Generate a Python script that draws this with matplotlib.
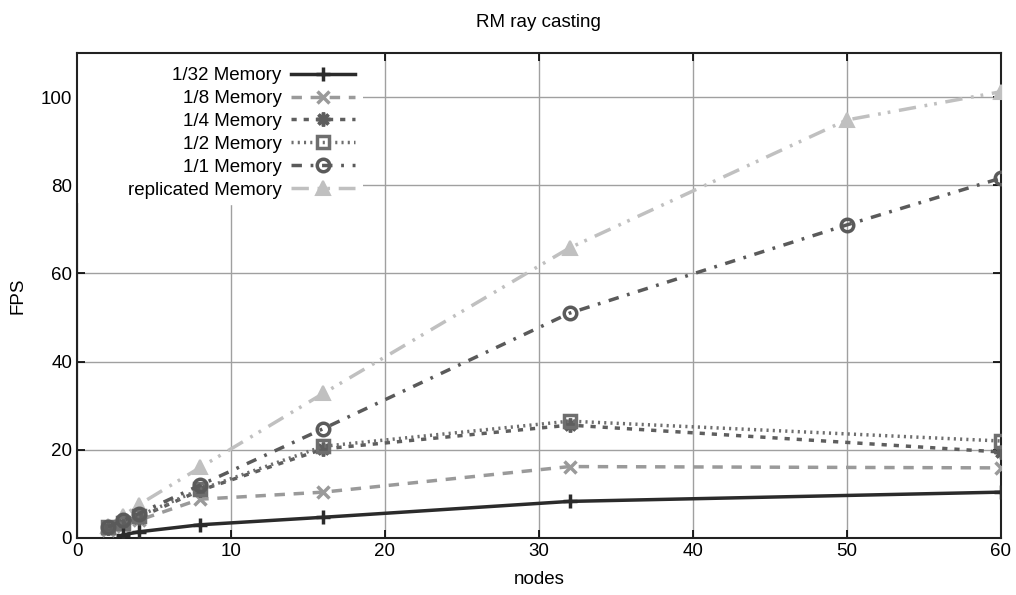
import matplotlib
matplotlib.use("Agg")
import matplotlib.pyplot as plt
from matplotlib.patches import Rectangle

plt.rcParams['font.family'] = ['Liberation Sans', 'DejaVu Sans']

# node counts
x_std = [2, 3, 4, 8, 16, 32, 60]
x_ext = [2, 3, 4, 8, 16, 32, 50, 60]
x_32 = [3, 4, 8, 16, 32, 60]

# FPS values
fps_32 = [0.7, 1.4, 3.0, 4.7, 8.3, 10.4]
fps_8 = [1.8, 2.8, 4.0, 8.8, 10.4, 16.2, 15.9]
fps_4 = [2.2, 3.2, 4.6, 10.8, 20.2, 25.6, 19.5]
fps_2 = [2.5, 3.5, 5.0, 11.0, 20.8, 26.5, 22.0]
fps_1 = [2.5, 4.0, 5.5, 12.0, 24.8, 51.0, 71.0, 81.6]
fps_rep = [2.8, 5.0, 7.5, 16.0, 32.8, 65.8, 94.8, 101.2]

fs = 13.5

fig = plt.figure(figsize=(10.16, 5.95), dpi=100)
ax = fig.add_axes([0.0758, 0.0958, 0.9092, 0.8152])

ax.plot(x_32, fps_32, color='#2b2b2b', lw=2.5, marker='+', ms=10, mew=2.5,
        label='1/32 Memory', zorder=8)
ax.plot(x_std, fps_8, color='#9a9a9a', lw=2.5, ls=(0, (3, 2.5)), marker='x', ms=8, mew=2.5,
        label='1/8 Memory', zorder=5)
ax.plot(x_std, fps_4, color='#5e5e5e', lw=2.5, ls=(0, (1.5, 2)), marker=(8, 2, 0), ms=10, mew=2.5,
        label='1/4 Memory', zorder=6)
ax.plot(x_std, fps_2, color='#6e6e6e', lw=2.5, ls=(0, (0.6, 1.2)), marker='s', ms=8, mew=2.5,
        mfc='none', label='1/2 Memory', zorder=6)
ax.plot(x_ext, fps_1, color='#5a5a5a', lw=2.5, ls=(0, (3, 2.5, 0.8, 2.5)), marker='o', ms=9, mew=2.5,
        mfc='none', label='1/1 Memory', zorder=7)
ax.plot(x_ext, fps_rep, color='#c0c0c0', lw=2.5, ls=(0, (5, 2.5, 0.8, 2, 0.8, 2.5)), marker='^', ms=10,
        mew=1.5, mfc='#c0c0c0', label='replicated Memory', zorder=4)

ax.set_xlim(0, 60)
ax.set_ylim(0, 110)
ax.set_xticks([0, 10, 20, 30, 40, 50, 60])
ax.set_yticks([0, 20, 40, 60, 80, 100])
ax.grid(True, color='#a0a0a0', lw=1)
ax.tick_params(direction='in', top=True, right=True, labelsize=fs, length=6, width=1.2)
for s in ax.spines.values():
    s.set_linewidth(1.5)
    s.set_color('#222222')

ax.set_xlabel('nodes', fontsize=fs, labelpad=8)
ax.set_ylabel('FPS', fontsize=fs, labelpad=10)
ax.set_title('RM ray casting', fontsize=fs, pad=19)

# white area behind the key hides the grid, as in gnuplot
ax.add_patch(Rectangle((0, 0.69), 0.31, 0.31, transform=ax.transAxes,
                       facecolor='white', edgecolor='none', zorder=2.5))

leg = ax.legend(loc='upper right', bbox_to_anchor=(0.316, 1.0), markerfirst=False, fontsize=fs,
                handlelength=3.4, labelspacing=0.31, borderpad=0.25, handletextpad=0.5,
                framealpha=1, fancybox=False, edgecolor='white')
leg.set_zorder(10)

fig.savefig('out.png', dpi=100)
